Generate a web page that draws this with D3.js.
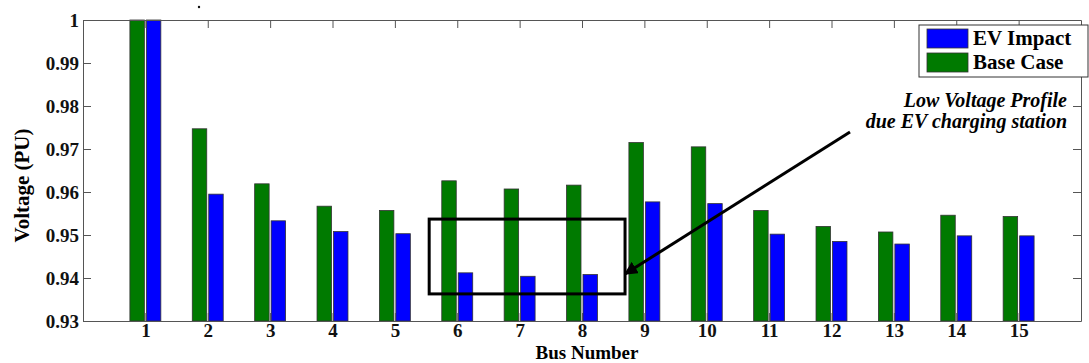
<!DOCTYPE html>
<html>
<head>
<meta charset="utf-8">
<script src="https://cdn.jsdelivr.net/npm/d3@7"></script>
<style>
  body { margin: 0; background: #fff; }
  svg { display: block; font-family: "Liberation Serif", "Times New Roman", serif; }
</style>
</head>
<body>
<svg id="chart" width="1089" height="363"></svg>
<script>
// data
var buses = [1, 2, 3, 4, 5, 6, 7, 8, 9, 10, 11, 12, 13, 14, 15];
var baseCase = [1.0, 0.9747, 0.9619, 0.9567, 0.9557, 0.9626, 0.9607, 0.9616, 0.9715, 0.9705, 0.9557, 0.9520, 0.9507, 0.9546, 0.9543];
var evImpact = [1.0, 0.9595, 0.9533, 0.9508, 0.9503, 0.9412, 0.9404, 0.9408, 0.9577, 0.9573, 0.9502, 0.9485, 0.9479, 0.9498, 0.9498];
var yTicks = [0.93, 0.94, 0.95, 0.96, 0.97, 0.98, 0.99, 1];
var legendItems = ["EV Impact", "Base Case"];

var GREEN = "#007a00";
var BLUE = "#0000ff";
var AXIS = "#555";

var margin = {top: 20, right: 8, bottom: 42, left: 83};
var innerW = 1081 - margin.left;
var innerH = 321 - margin.top;

var svg = d3.select("#chart");
var g = svg.append("g")
    .attr("transform", "translate(" + margin.left + "," + margin.top + ")");

var x = d3.scaleLinear().domain([0, 16]).range([0, innerW]);
var y = d3.scaleLinear().domain([0.93, 1]).range([innerH, 0]);
var BAR_W = x(0.232) - x(0);
var GAP = 1;

// bars
var rows = buses.map(function(b, i) { return {bus: b, base: baseCase[i], ev: evImpact[i]}; });

g.selectAll(".bar-base")
  .data(rows)
  .enter().append("rect")
    .attr("class", "bar-base")
    .attr("x", function(d) { return x(d.bus) - GAP - BAR_W; })
    .attr("y", function(d) { return y(d.base); })
    .attr("width", BAR_W)
    .attr("height", function(d) { return y(0.93) - y(d.base); })
    .attr("fill", GREEN)
    .attr("stroke", "#333")
    .attr("stroke-width", 0.8);

g.selectAll(".bar-ev")
  .data(rows)
  .enter().append("rect")
    .attr("class", "bar-ev")
    .attr("x", function(d) { return x(d.bus) + GAP; })
    .attr("y", function(d) { return y(d.ev); })
    .attr("width", BAR_W)
    .attr("height", function(d) { return y(0.93) - y(d.ev); })
    .attr("fill", BLUE)
    .attr("stroke", "#333")
    .attr("stroke-width", 0.8);

// axes, ticks pointing inward like matlab
function styleAxis(sel) {
    sel.attr("font-family", "Liberation Serif, serif");
    sel.select(".domain").attr("stroke", AXIS);
    sel.selectAll(".tick line").attr("stroke", AXIS);
    sel.selectAll("text")
      .attr("font-weight", "bold")
      .attr("font-size", 19)
      .attr("fill", "#111");
}

g.append("g")
    .attr("transform", "translate(0," + innerH + ")")
    .call(d3.axisBottom(x).tickValues(buses).tickSize(-8).tickSizeOuter(0).tickPadding(2).tickFormat(d3.format("d")))
    .call(styleAxis);

g.append("g")
    .call(d3.axisTop(x).tickValues(buses).tickSize(-8).tickSizeOuter(0).tickFormat(""))
    .call(styleAxis);

g.append("g")
    .call(d3.axisLeft(y).tickValues(yTicks).tickSize(-8).tickSizeOuter(0).tickPadding(4).tickFormat(function(d) { return d === 1 ? "1" : d3.format(".2f")(d); }))
    .call(styleAxis);

g.append("g")
    .attr("transform", "translate(" + innerW + ",0)")
    .call(d3.axisRight(y).tickValues(yTicks).tickSize(-8).tickSizeOuter(0).tickFormat(""))
    .call(styleAxis);

// axis titles
svg.append("text")
    .attr("x", 587)
    .attr("y", 359)
    .attr("text-anchor", "middle")
    .attr("font-weight", "bold")
    .attr("font-size", 19)
    .text("Bus Number");

svg.append("text")
    .attr("transform", "translate(29," + (margin.top + y(0.9615)) + ") rotate(-90)")
    .attr("text-anchor", "middle")
    .attr("font-weight", "bold")
    .attr("font-size", 21)
    .text("Voltage (PU)");

// stray dot above the plot
svg.append("circle").attr("cx", 199).attr("cy", 7).attr("r", 1.2).attr("fill", "#111");

// highlight box around buses 6-8
g.append("rect")
    .attr("x", x(5.55))
    .attr("y", y(0.9537))
    .attr("width", x(8.69) - x(5.55))
    .attr("height", y(0.9363) - y(0.9537))
    .attr("fill", "none")
    .attr("stroke", "#000")
    .attr("stroke-width", 3);

// arrow
svg.append("defs").append("marker")
    .attr("id", "head")
    .attr("viewBox", "0 0 10 10")
    .attr("refX", 9).attr("refY", 5)
    .attr("markerWidth", 4.5).attr("markerHeight", 4.5)
    .attr("orient", "auto")
  .append("path")
    .attr("d", "M0,0 L10,5 L0,10 Z")
    .attr("fill", "#000");

svg.append("line")
    .attr("x1", 850).attr("y1", 132)
    .attr("x2", 625).attr("y2", 274)
    .attr("stroke", "#000")
    .attr("stroke-width", 3)
    .attr("marker-end", "url(#head)");

var note = svg.append("text")
    .attr("text-anchor", "end")
    .attr("font-weight", "bold")
    .attr("font-style", "italic")
    .attr("font-size", 20);
note.append("tspan").attr("x", 1067).attr("y", 107).text("Low Voltage Profile");
note.append("tspan").attr("x", 1067).attr("y", 128).text("due EV charging station");

// legend
var legend = svg.append("g").attr("transform", "translate(919,25)");
legend.append("rect")
    .attr("width", 169).attr("height", 52)
    .attr("fill", "#fff").attr("stroke", "#333").attr("stroke-width", 1);
var items = legend.selectAll(".item")
    .data(legendItems)
  .enter().append("g")
    .attr("transform", function(d, i) { return "translate(8," + (4 + i * 24) + ")"; });
items.append("rect")
    .attr("width", 41).attr("height", 19)
    .attr("fill", function(d, i) { return i === 0 ? BLUE : GREEN; })
    .attr("stroke", "#333").attr("stroke-width", 0.8);
items.append("text")
    .attr("x", 46).attr("y", 16)
    .attr("font-weight", "bold")
    .attr("font-size", 21)
    .text(function(d) { return d; });
</script>
</body>
</html>
